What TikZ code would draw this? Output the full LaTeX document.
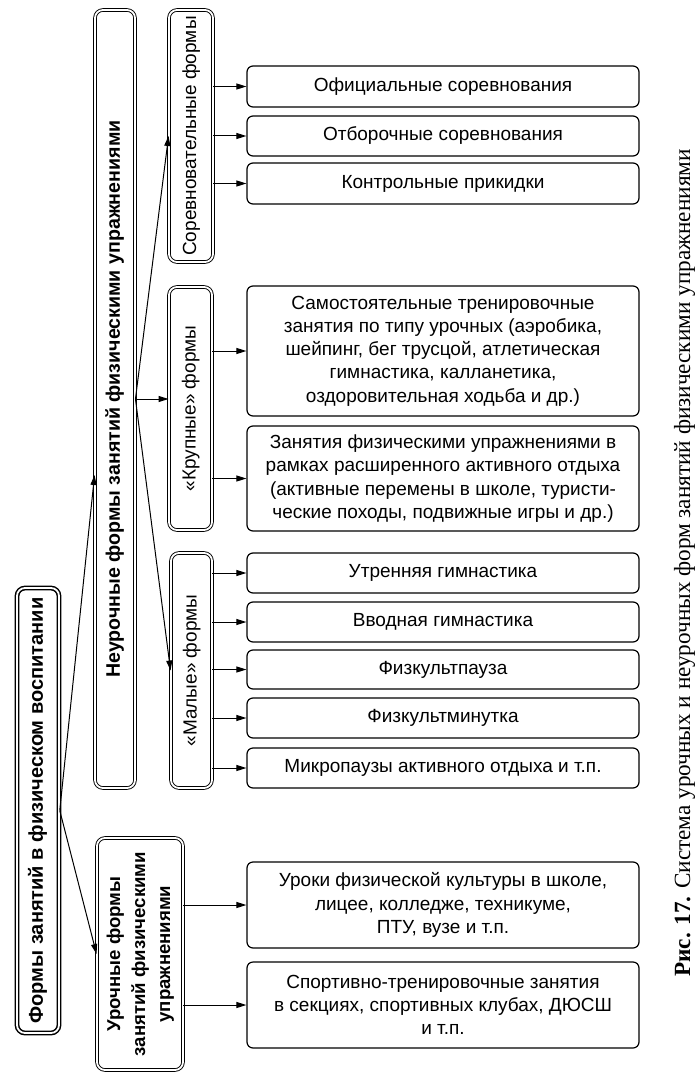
\documentclass[tikz,border=0pt]{standalone}
\usepackage{fontspec}
\setmainfont{Liberation Sans}
\newfontfamily\capfont{Liberation Serif}
\usetikzlibrary{arrows.meta}
\newcommand{\vtext}[1]{\rotatebox{90}{\begin{tabular}{@{}c@{}}#1\end{tabular}}}
\tikzset{
    lbox/.style={draw, double, line width=0.45pt, double distance=0.9pt, rounded corners=4pt,
        inner sep=0pt, font=\fontsize{9.5}{12.5}\selectfont},
    rootbox/.style={lbox, line width=0.75pt, font=\bfseries\fontsize{10}{12}\selectfont},
    rbox/.style={draw, line width=0.6pt, rounded corners=3pt, minimum width=196pt,
        inner sep=0pt, align=center, font=\fontsize{9.5}{11.6}\selectfont},
    arr/.style={-{Triangle[length=5pt,width=3pt]}, line width=0.5pt},
}
\begin{document}
\begin{tikzpicture}[x=0.5pt,y=-0.5pt]
\useasboundingbox (0,0) rectangle (697,1091);
% left column
\node[rootbox, minimum width=21pt, minimum height=222.5pt] (root) at (38,810.5)
    {\vtext{Формы занятий в физическом воспитании}};
\node[lbox, font=\bfseries\fontsize{9.8}{12}\selectfont, minimum width=20pt, minimum height=389pt] (neur) at (115,399)
    {\vtext{Неурочные формы занятий физическими упражнениями}};
\node[lbox, font=\bfseries\fontsize{9.3}{12.5}\selectfont, minimum width=43pt, minimum height=116pt] (uroch) at (140,954)
    {\vtext{Урочные формы\\занятий физическими\\упражнениями}};
% second column
\node[lbox, minimum width=22pt, minimum height=126pt] (sorev) at (191,136)
    {\vtext{Соревновательные формы}};
\node[lbox, minimum width=21.5pt, minimum height=121.5pt] (krup) at (190.5,408.5)
    {\vtext{«Крупные» формы}};
\node[lbox, minimum width=20.5pt, minimum height=117.5pt] (mal) at (191.5,670.5)
    {\vtext{«Малые» формы}};
% right column
\node[rbox, minimum height=20.5pt] (s1) at (443,86.5) {Официальные соревнования};
\node[rbox, minimum height=20pt] (s2) at (443,136) {Отборочные соревнования};
\node[rbox, minimum height=20.5pt] (s3) at (443,183.5) {Контрольные прикидки};
\node[rbox, minimum height=65pt] (k1) at (443,351) {Самостоятельные тренировочные\\занятия по типу урочных (аэробика,\\шейпинг, бег трусцой, атлетическая\\гимнастика, калланетика,\\оздоровительная ходьба и др.)};
\node[rbox, minimum height=52.5pt] (k2) at (443,478.5) {Занятия физическими упражнениями в\\рамках расширенного активного отдыха\\(активные перемены в школе, туристи-\\ческие походы, подвижные игры и др.)};
\node[rbox, minimum height=20pt] (m1) at (443,573) {Утренняя гимнастика};
\node[rbox, minimum height=20pt] (m2) at (443,622) {Вводная гимнастика};
\node[rbox, minimum height=19.5pt] (m3) at (443,669.5) {Физкультпауза};
\node[rbox, minimum height=20pt] (m4) at (443,718) {Физкультминутка};
\node[rbox, minimum height=20pt] (m5) at (443,768) {Микропаузы активного отдыха и т.п.};
\node[rbox, minimum height=43pt] (u1) at (443,905) {Уроки физической культуры в школе,\\лицее, колледже, техникуме,\\ПТУ, вузе и т.п.};
\node[rbox, minimum height=43pt] (u2) at (443,1005) {Спортивно-тренировочные занятия\\в секциях, спортивных клубах, ДЮСШ\\и т.п.};
% caption
\node[rotate=90, anchor=base, font=\capfont\fontsize{11.6}{14}\selectfont] (cap) at (690,563)
    {\textbf{Рис. 17.} Система урочных и неурочных форм занятий физическими упражнениями};
% arrows
\draw[arr] (root.east) -- ([yshift=-38pt]neur.west);
\draw[arr] (root.east) -- (uroch.west);
\draw[arr] (neur.east) -- (sorev.west);
\draw[arr] (neur.east) -- (neur.east -| krup.west);
\draw[arr] (neur.east) -- (mal.west);
\draw[arr] (s1.west -| sorev.east) -- (s1.west);
\draw[arr] (s2.west -| sorev.east) -- (s2.west);
\draw[arr] (s3.west -| sorev.east) -- (s3.west);
\draw[arr] (k1.west -| krup.east) -- (k1.west);
\draw[arr] (k2.west -| krup.east) -- (k2.west);
\draw[arr] (m1.west -| mal.east) -- (m1.west);
\draw[arr] (m2.west -| mal.east) -- (m2.west);
\draw[arr] (m3.west -| mal.east) -- (m3.west);
\draw[arr] (m4.west -| mal.east) -- (m4.west);
\draw[arr] (m5.west -| mal.east) -- (m5.west);
\draw[arr] (u1.west -| uroch.east) -- (u1.west);
\draw[arr] (u2.west -| uroch.east) -- (u2.west);
\end{tikzpicture}
\end{document}
